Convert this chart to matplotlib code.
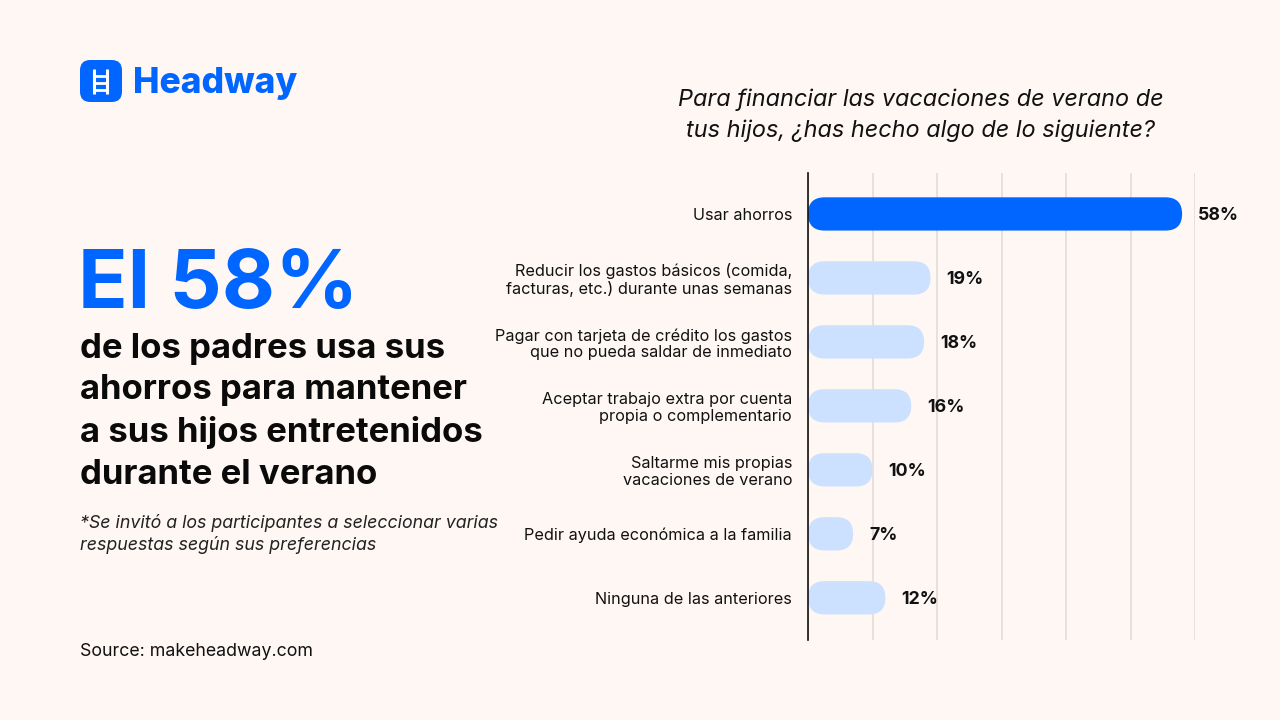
"""Headway survey chart: how parents fund summer holidays."""

import matplotlib.pyplot as plt
from matplotlib.patches import FancyBboxPatch

plt.rcParams["font.family"] = ["Inter", "DejaVu Sans"]

categories = [
    "Usar ahorros",
    "Reducir los gastos básicos (comida,\nfacturas, etc.) durante unas semanas",
    "Pagar con tarjeta de crédito los gastos\nque no pueda saldar de inmediato",
    "Aceptar trabajo extra por cuenta\npropia o complementario",
    "Saltarme mis propias\nvacaciones de verano",
    "Pedir ayuda económica a la familia",
    "Ninguna de las anteriores",
]
values = [58, 19, 18, 16, 10, 7, 12]
highlight = "Usar ahorros"

BG = "#FEF7F4"
BLUE = "#0066FF"
LIGHT = "#CCE0FF"
GRID = "#E3DDD8"

W, H = 1280, 720
fig = plt.figure(figsize=(12.8, 7.2), dpi=100, facecolor=BG)

# --- chart ---
xmax = 60
left, top, bottom = 808, 173, 640
right = left + xmax * 6.45
ax = fig.add_axes([left / W, 1 - bottom / H, (right - left) / W, (bottom - top) / H])
ax.set_facecolor(BG)
ax.set_xlim(0, xmax)
ax.set_ylim(len(values) - 1 + 0.66, -0.64)

bar_h = 0.52
px_x = (right - left) / xmax
px_y = (bottom - top) / (len(values) - 1 + 0.66 + 0.64)
r_px = bar_h * px_y / 2
r_x = r_px / px_x
for i, (cat, v) in enumerate(zip(categories, values)):
    color = BLUE if cat == highlight else LIGHT
    box = FancyBboxPatch((0, i - bar_h / 2), v, bar_h,
                         boxstyle=f"round,pad=0,rounding_size={r_x}",
                         mutation_aspect=px_x / px_y,
                         fc=color, ec="none", zorder=3)
    ax.add_patch(box)
    ax.text(v + 16 / px_x, i, f"{v}%", va="center_baseline", ha="left",
            fontsize=12.8, fontweight="bold", color="#111111")

ax.set_yticks(range(len(categories)))
ax.set_yticklabels(categories, fontsize=11.7, color="#111111", linespacing=1.15)
ax.tick_params(axis="y", length=0, pad=11.5)
ax.set_xticks(range(0, xmax + 1, 10))
ax.tick_params(axis="x", length=0, labelbottom=False)
ax.grid(axis="x", color=GRID, lw=1.2, zorder=0)
for s in ["top", "right", "bottom"]:
    ax.spines[s].set_visible(False)
ax.spines["left"].set_color("#111111")
ax.spines["left"].set_linewidth(1.2)
ax.spines["left"].set_zorder(4)

fig.text(921 / W, 1 - 115 / H,
         "Para financiar las vacaciones de verano de\ntus hijos, ¿has hecho algo de lo siguiente?",
         ha="center", va="center", fontsize=16.9, style="italic", color="#111111",
         linespacing=1.5)

# --- logo ---
logo = FancyBboxPatch((80 / W, 1 - 102 / H), 42 / W, 42 / H,
                      boxstyle="round,pad=0,rounding_size=0.008",
                      mutation_aspect=W / H, transform=fig.transFigure,
                      fc=BLUE, ec="none")
fig.patches.append(logo)
for xx in (94, 107):
    fig.add_artist(plt.Line2D([xx / W, xx / W], [1 - 69 / H, 1 - 94 / H],
                              color="white", lw=2.2, solid_capstyle="butt"))
for yy in (76, 83, 90):
    fig.add_artist(plt.Line2D([94 / W, 107 / W], [1 - yy / H, 1 - yy / H],
                              color="white", lw=2.0))
fig.text(133 / W, 1 - 83 / H, "Headway", ha="left", va="center",
         fontsize=25.5, fontweight="heavy", color=BLUE)

# --- left panel ---
fig.text(78 / W, 1 - 308 / H, "El 58%", ha="left", va="baseline",
         fontsize=59, fontweight="bold", color=BLUE)
fig.text(80 / W, 1 - 333 / H,
         "de los padres usa sus\nahorros para mantener\na sus hijos entretenidos\ndurante el verano",
         ha="left", va="top", fontsize=25, fontweight="bold", color="#0A0A0A",
         linespacing=1.38)
fig.text(80 / W, 1 - 534 / H,
         "*Se invitó a los participantes a seleccionar varias\nrespuestas según sus preferencias",
         ha="left", va="center", fontsize=12.8, style="italic", color="#222222",
         linespacing=1.3)
fig.text(80 / W, 1 - 652 / H, "Source: makeheadway.com", ha="left", va="center",
         fontsize=12.8, color="#111111")

fig.savefig("out.png", dpi=100, facecolor=BG)
